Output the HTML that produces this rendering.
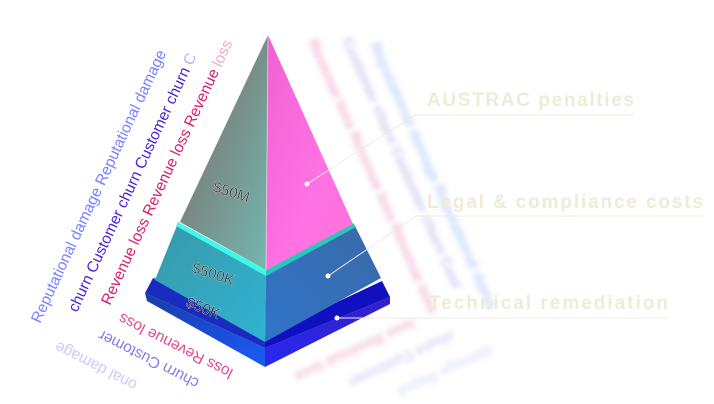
<!DOCTYPE html>
<html><head><meta charset="utf-8"><style>
html,body{margin:0;padding:0;background:#fff;width:714px;height:404px;overflow:hidden}
svg{display:block}
text{font-family:"Liberation Sans",sans-serif}
</style></head><body>
<svg width="714" height="404" viewBox="0 0 714 404" xmlns="http://www.w3.org/2000/svg">
<defs>
<linearGradient id="tl" x1="0" y1="0" x2="1" y2="1"><stop offset="0.3" stop-color="#7a807a"/><stop offset="1" stop-color="#72b8b0"/></linearGradient>
<linearGradient id="tr" x1="0" y1="0" x2="1" y2="1"><stop offset="0" stop-color="#f060d0"/><stop offset="0.6" stop-color="#ff72e4"/><stop offset="1" stop-color="#ff70d8"/></linearGradient>
<linearGradient id="ml" x1="0" y1="0" x2="1" y2="1"><stop offset="0" stop-color="#3898a8"/><stop offset="1" stop-color="#30b4d4"/></linearGradient>
<linearGradient id="mr" x1="0" y1="1" x2="1" y2="0"><stop offset="0" stop-color="#3074c8"/><stop offset="1" stop-color="#3a6aa8"/></linearGradient>
<linearGradient id="bl" x1="0" y1="0" x2="1" y2="1"><stop offset="0" stop-color="#1a3aa8"/><stop offset="1" stop-color="#1a5cf8"/></linearGradient>
<linearGradient id="br" x1="0" y1="1" x2="1" y2="0"><stop offset="0" stop-color="#2a28f0"/><stop offset="1" stop-color="#3020c8"/></linearGradient>
<filter id="bf"><feGaussianBlur stdDeviation="2.6"/></filter>
</defs>

<!-- left rotated text -->
<g font-size="15.5">
<text transform="translate(40,324) rotate(-65)" fill="#7a80ff">Reputational damage Reputational damage</text>
<text transform="translate(77,313) rotate(-65)" fill="#4a22d8">churn Customer churn Customer churn <tspan fill="#b8b0f0">C</tspan></text>
<text transform="translate(110,306) rotate(-65)" fill="#d81c70">Revenue loss Revenue loss Revenue <tspan fill="#f0a8c8">loss</tspan></text>
<text transform="translate(234,370) rotate(207)" fill="#e04890">loss Revenue loss</text>
<text transform="translate(200,380) rotate(207)" fill="#8a78e8">churn Customer</text>
<text transform="translate(138,382) rotate(207)" fill="#c8ccf8">onal damage</text>
</g>

<!-- right blurred text -->
<g font-size="15" font-weight="bold" filter="url(#bf)" opacity="0.5">
<text transform="translate(308,42) rotate(66)" fill="#e070a8">Revenue loss Revenue loss Revenue loss</text>
<text transform="translate(342,40) rotate(66)" fill="#a090e0">Customer churn Customer churn Cust</text>
<text transform="translate(370,45) rotate(66)" fill="#80a8f8">Reputational damage Reputational dama</text>
<text transform="translate(412,318) rotate(155)" fill="#e080b0">loss Revenue loss</text>
<text transform="translate(452,330) rotate(155)" fill="#b0a8e8">churn Customer</text>
<text transform="translate(490,345) rotate(155)" fill="#c0c8f8">damage Reput</text>
</g>

<!-- pyramid base tier -->
<polygon points="153,278 265,336 265,348 145,293" fill="#1a2cc0"/>
<polygon points="145,293 265,348 265,367 147,301" fill="url(#bl)"/>
<polygon points="265,348 390,297 390,304 265,367" fill="url(#br)"/>
<polygon points="265,336 382,281 390,297 265,348" fill="#1010c0"/>
<polygon points="153,278 160,276 265,334 265,340" fill="#40d8f0"/>
<!-- middle tier -->
<polygon points="178,223 266,272 265,342 155,280" fill="url(#ml)"/>
<polygon points="266,272 354,224 381,278 265,342" fill="url(#mr)"/>
<polygon points="178,222 266,270 266,276 176,226" fill="#40f8e8"/>
<polygon points="266,270 353,223 356,227 266,276" fill="#28c8b8"/>
<!-- top tier -->
<polygon points="268,35 266,270 180,222" fill="url(#tl)"/>
<polygon points="268,35 353,224 266,270" fill="url(#tr)"/>
<line x1="268" y1="35" x2="266" y2="270" stroke="#ffffff" stroke-opacity="0.5" stroke-width="1"/>

<!-- tier labels -->
<g font-size="15" fill="#262626" stroke="#cfcfcf" stroke-width="0.4">
<text transform="translate(212,191) rotate(18)">$50M</text>
<text transform="translate(191,272) rotate(18)">$500K</text>
<text transform="translate(185,306) rotate(22)" fill="#0c0c40">$50K</text>
</g>

<!-- connectors -->
<g stroke="#f0ecd8" stroke-width="1" fill="none">
<polyline points="307,184 415,115 634,115"/>
<polyline points="328,276 416,216 703,216"/>
<polyline points="337,318 668,318"/>
</g>
<g fill="#ffffff"><circle cx="307" cy="184" r="2.5"/><circle cx="328" cy="276" r="2.5"/><circle cx="337" cy="318" r="2.5"/></g>

<g font-size="19" font-weight="bold" fill="#efebd6">
<text x="427" y="106" textLength="207" lengthAdjust="spacing">AUSTRAC penalties</text>
<text x="427" y="208" textLength="276" lengthAdjust="spacing">Legal &amp; compliance costs</text>
<text x="429" y="309" textLength="239" lengthAdjust="spacing">Technical remediation</text>
</g>
</svg>
</body></html>
